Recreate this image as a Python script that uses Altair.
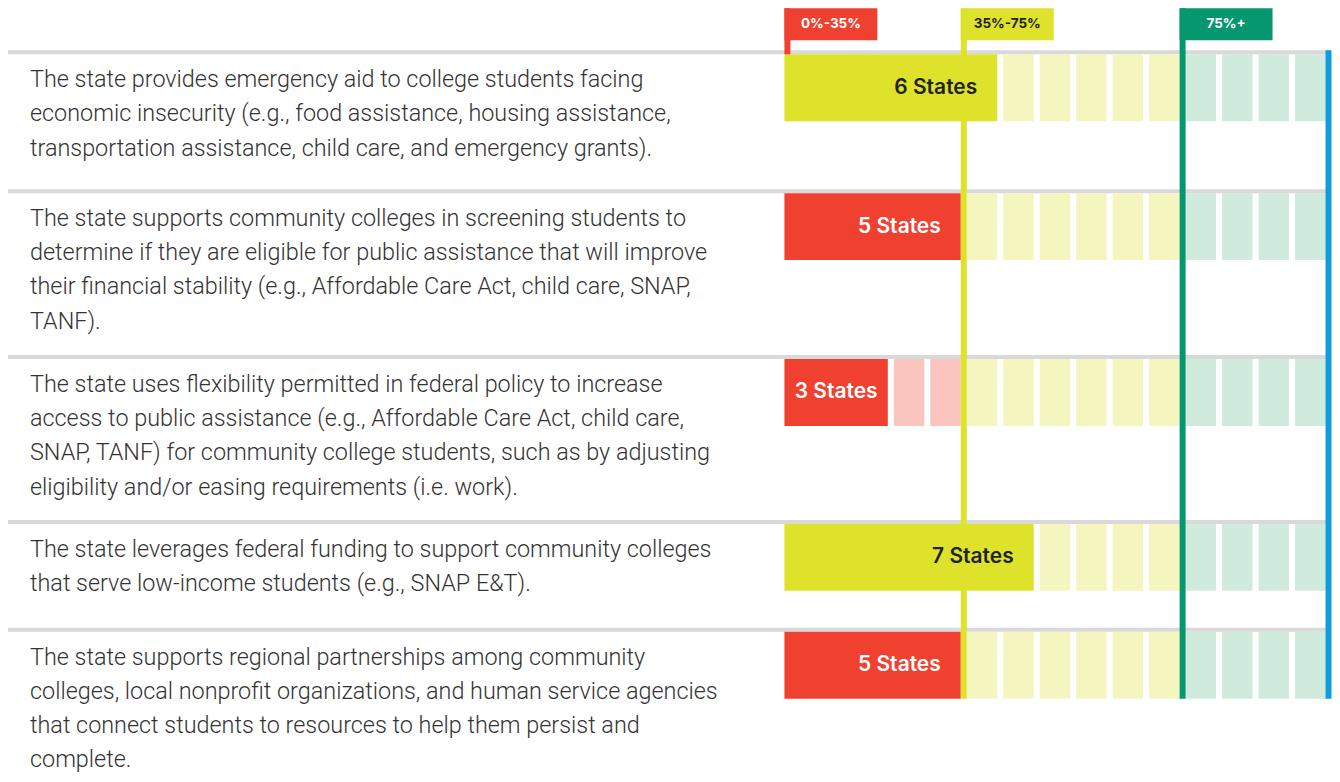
import altair as alt
import pandas as pd

# ---------------- data ----------------
statements = [
    ["The state provides emergency aid to college students facing",
     "economic insecurity (e.g., food assistance, housing assistance,",
     "transportation assistance, child care, and emergency grants)."],
    ["The state supports community colleges in screening students to",
     "determine if they are eligible for public assistance that will improve",
     "their financial stability (e.g., Affordable Care Act, child care, SNAP,",
     "TANF)."],
    ["The state uses flexibility permitted in federal policy to increase",
     "access to public assistance (e.g., Affordable Care Act, child care,",
     "SNAP, TANF) for community college students, such as by adjusting",
     "eligibility and/or easing requirements (i.e. work)."],
    ["The state leverages federal funding to support community colleges",
     "that serve low-income students (e.g., SNAP E&T)."],
    ["The state supports regional partnerships among community",
     "colleges, local nonprofit organizations, and human service agencies",
     "that connect students to resources to help them persist and",
     "complete."],
]
state_counts = [6, 5, 3, 7, 5]
total_states = 15
zone_labels = ["0%-35%", "35%-75%", "75%+"]
zone_bounds = [0.0, 0.35, 0.75]
zone_names = ["low", "mid", "high"]

# ---------------- layout ----------------
W, H = 1324, 766
PITCH, CELL = 36.5, 30.5
GAP = PITCH - CELL
GRID_LEFT = 777
FIRST_SEP = 42
ROW_HEIGHTS = [139, 166, 165, 108, 150]
SEP_H = 4
BAR_H = 67
TEXT_OFFSET = 37
LINE_H = 34.2
TAG_W, TAG_H = 93, 32
LABEL_TEXT_W = 83

full_col = {"low": "#F04130", "mid": "#DFE22A", "high": "#07976F"}
pale_col = {"low": "#F9C5BE", "mid": "#F5F5C0", "high": "#D0EBDD"}
BLUE = "#0F9EDD"
GREY = "#D9D9D9"
TEXT = "#333333"


def zone_of(frac):
    z = 0
    for k, b in enumerate(zone_bounds):
        if frac >= b:
            z = k
    return zone_names[z]


sep_tops = []
y = FIRST_SEP
for h in ROW_HEIGHTS[: len(statements)]:
    sep_tops.append(y)
    y += h

cells, bars, labels, texts, seps = [], [], [], [], []
for r, (lines, n) in enumerate(zip(statements, state_counts)):
    top = sep_tops[r] + SEP_H
    seps.append({"y": sep_tops[r], "y2": sep_tops[r] + SEP_H})
    texts.append({"t": "\n".join(lines), "y": sep_tops[r] + TEXT_OFFSET})
    zn = zone_of(n / total_states)
    bars.append({"x": 0, "x2": n - 1 + CELL / PITCH, "y": top, "y2": top + BAR_H,
                 "c": full_col[zn]})
    pad = min(20, (n * PITCH - GAP - LABEL_TEXT_W) / 2)
    labels.append({"x": n - 1 + CELL / PITCH - pad / PITCH, "y": top + BAR_H / 2,
                   "t": f"{n} States", "fg": "#222222" if zn == "mid" else "#FFFFFF"})
    for i in range(n, total_states):
        cz = zone_of((i + 1) / total_states)
        cells.append({"x": i, "x2": i + CELL / PITCH, "y": top, "y2": top + BAR_H,
                      "c": pale_col[cz]})

grid_bottom = sep_tops[-1] + SEP_H + BAR_H

zone_start = []
for zn in zone_names:
    s = next(i for i in range(total_states) if zone_of((i + 1) / total_states) == zn)
    zone_start.append(s)

lines_df, tags_df = [], []
for s, zn, lab in zip(zone_start, zone_names, zone_labels):
    left = 0 if s == 0 else s - GAP / PITCH
    y2 = FIRST_SEP + SEP_H if s == 0 else grid_bottom
    lines_df.append({"x": left, "x2": left + GAP / PITCH, "y": 0, "y2": y2, "c": full_col[zn]})
    tags_df.append({"x": left, "x2": left + TAG_W / PITCH, "y": 0, "y2": TAG_H,
                    "xc": left + TAG_W / PITCH / 2, "yc": TAG_H / 2, "t": lab,
                    "c": full_col[zn], "fg": "#222222" if zn == "mid" else "#FFFFFF"})
lines_df.append({"x": total_states - GAP / PITCH, "x2": total_states,
                 "y": FIRST_SEP, "y2": grid_bottom, "c": BLUE})

xs = alt.Scale(domain=[-GRID_LEFT / PITCH, (W - GRID_LEFT) / PITCH], nice=False, zero=False)
ys = alt.Scale(domain=[0, H], reverse=True, nice=False, zero=False)


def rects(df):
    return alt.Chart(pd.DataFrame(df)).mark_rect().encode(
        x=alt.X("x:Q", scale=xs, axis=None),
        x2="x2:Q",
        y=alt.Y("y:Q", scale=ys, axis=None),
        y2="y2:Q",
        color=alt.Color("c:N", scale=None),
    )


sep_layer = alt.Chart(pd.DataFrame(seps)).mark_rect(color=GREY).encode(
    x=alt.value(0), x2=alt.value(W),
    y=alt.Y("y:Q", scale=ys, axis=None), y2="y2:Q",
)

label_layer = alt.Chart(pd.DataFrame(labels)).mark_text(
    align="right", baseline="middle", font="Inter", fontSize=21, fontWeight=600
).encode(
    x=alt.X("x:Q", scale=xs, axis=None),
    y=alt.Y("y:Q", scale=ys, axis=None),
    text="t:N",
    color=alt.Color("fg:N", scale=None),
)

text_layer = alt.Chart(pd.DataFrame(texts)).mark_text(
    align="left", baseline="alphabetic", font="Roboto", fontSize=23.4, fontWeight=300,
    lineBreak="\n", lineHeight=LINE_H, color=TEXT
).encode(
    x=alt.value(22),
    y=alt.Y("y:Q", scale=ys, axis=None),
    text="t:N",
)

tag_text = alt.Chart(pd.DataFrame(tags_df)).mark_text(
    align="center", baseline="middle", font="Inter", fontSize=13.5, fontWeight=700
).encode(
    x=alt.X("xc:Q", scale=xs, axis=None),
    y=alt.Y("yc:Q", scale=ys, axis=None),
    text="t:N",
    color=alt.Color("fg:N", scale=None),
)

chart = alt.layer(
    sep_layer,
    rects(cells),
    rects(bars),
    text_layer,
    rects(lines_df),
    rects(tags_df),
    tag_text,
    label_layer,
).properties(width=W, height=H, padding=0).configure_view(stroke=None)

chart.save("out.html", embed_options={"renderer": "svg", "actions": False})
